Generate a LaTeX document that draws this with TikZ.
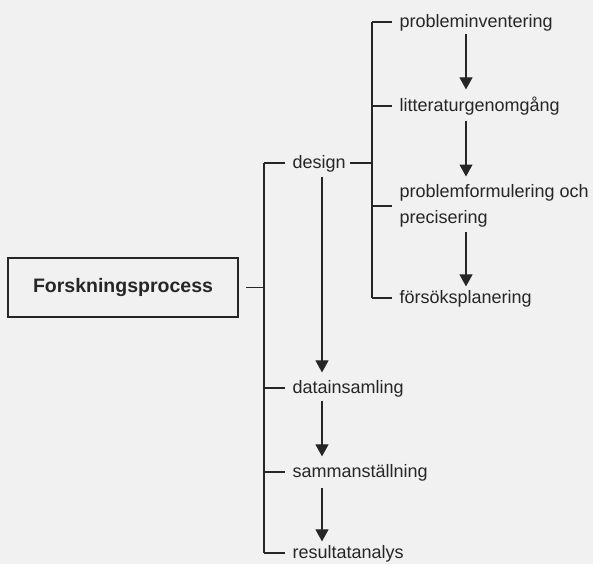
\documentclass[tikz,border=0pt]{standalone}
\usepackage{fontspec}
\setmainfont{Liberation Sans}
\usetikzlibrary{arrows.meta}
\definecolor{ink}{HTML}{262626}
\definecolor{paper}{HTML}{F1F1F1}
\begin{document}
\begin{tikzpicture}[x=1pt,y=-1pt,
  every path/.style={draw=ink,line width=1.2pt},
  stage/.style={anchor=west,inner xsep=7pt,inner ysep=0pt,text=ink,
    font=\fontsize{18}{26}\selectfont,text height=14pt,text depth=3pt},
  stagetwo/.style={anchor=west,inner xsep=7pt,inner ysep=0pt,text=ink,
    font=\fontsize{18}{26}\selectfont,align=left},
  mainbox/.style={draw=ink,line width=1.5pt,minimum width=230pt,minimum height=59pt,
    inner sep=0pt,text=ink,font=\fontsize{19.5}{22}\selectfont\bfseries},
  flow/.style={-{Triangle[width=13pt,length=12pt]},line width=1.1pt}]
\useasboundingbox[fill=paper,draw=none] (0,0) rectangle (593,564);

% columns: bracket lines and arrow axes
\coordinate (bxa) at (264,0);
\coordinate (bxb) at (372,0);
\coordinate (axa) at (322,0);
\coordinate (axb) at (466,0);

% main box
\node[mainbox] (main) at (123,287.5) {Forskningsprocess};

% middle column
\node[stage] (design)   at (285,163) {design};
\node[stage] (data)     at (285,388) {datainsamling};
\node[stage] (samman)   at (285,472) {sammanställning};
\node[stage] (result)   at (285,553) {resultatanalys};

% design sub-steps
\node[stage] (inv)      at (392,22)  {probleminventering};
\node[stage] (litt)     at (392,106) {litteraturgenomgång};
\node[stagetwo] (form)  at (392,206) {problemformulering och\\precisering};
\node[stage] (forsok)   at (392,298) {försöksplanering};

% main bracket
\draw ([xshift=7pt]main.east) -- (main.east -| bxa);
\draw (design.west -| bxa) -- (result.west -| bxa);
\draw (design.west -| bxa) -- (design.west);
\draw (data.west -| bxa) -- (data.west);
\draw (samman.west -| bxa) -- (samman.west);
\draw (result.west -| bxa) -- (result.west);

% design bracket
\draw ([xshift=-3pt]design.east) -- (design.east -| bxb);
\draw (inv.west -| bxb) -- (forsok.west -| bxb);
\draw (inv.west -| bxb) -- (inv.west);
\draw (litt.west -| bxb) -- (litt.west);
\draw (form.west -| bxb) -- (form.west);
\draw (forsok.west -| bxb) -- (forsok.west);

% sequence arrows
\draw[flow,shorten <=2.5pt,shorten >=7.5pt] (inv.south -| axb) -- (litt.north -| axb);
\draw[flow,shorten <=5.5pt,shorten >=7.5pt] (litt.south -| axb) -- (form.north -| axb);
\draw[flow,shorten <=4.5pt,shorten >=2.5pt] (form.south -| axb) -- (forsok.north -| axb);

\draw[flow,shorten <=4.5pt,shorten >=6.5pt] (design.south -| axa) -- (data.north -| axa);
\draw[flow,shorten <=3.5pt,shorten >=6.5pt] (data.south -| axa) -- (samman.north -| axa);
\draw[flow,shorten <=6.5pt,shorten >=2.5pt] (samman.south -| axa) -- (result.north -| axa);
\end{tikzpicture}
\end{document}
